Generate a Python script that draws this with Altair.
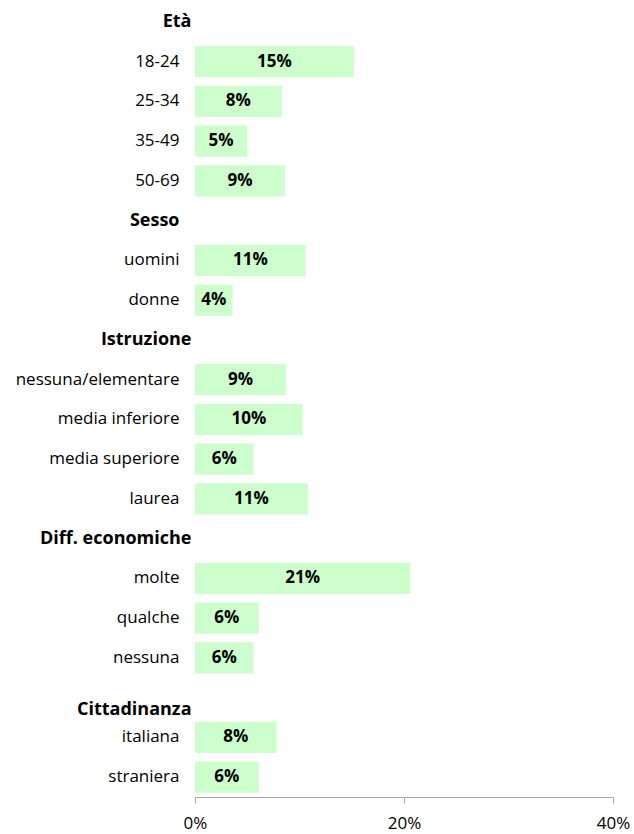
import altair as alt
import pandas as pd

rows = ["Età", "18-24", "25-34", "35-49", "50-69",
        "Sesso", "uomini", "donne",
        "Istruzione", "nessuna/elementare", "media inferiore", "media superiore", "laurea",
        "Diff. economiche", "molte", "qualche", "nessuna",
        "Cittadinanza", "italiana", "straniera"]
headers = ["Età", "Sesso", "Istruzione", "Diff. economiche", "Cittadinanza"]
values = [None, 0.152, 0.083, 0.050, 0.086,
          None, 0.106, 0.036,
          None, 0.087, 0.103, 0.056, 0.108,
          None, 0.206, 0.061, 0.056,
          None, 0.078, 0.061]

df = pd.DataFrame({"row": rows, "v": values})
bars_df = df.dropna().copy()
bars_df["mid"] = bars_df["v"] / 2

FONT = "Open Sans"

hdr_test = " || ".join([f"datum.value == '{h}'" for h in headers])

y_enc = alt.Y(
    "row:N",
    sort=rows,
    scale=alt.Scale(domain=rows, paddingInner=0.22, paddingOuter=0.11),
    axis=alt.Axis(
        title=None, domain=False, ticks=False,
        labelFont=FONT, labelColor="#000000",
        labelFontSize={"condition": {"test": hdr_test, "value": 18}, "value": 17},
        labelFontWeight={"condition": {"test": hdr_test, "value": "bold"}, "value": "normal"},
        labelPadding={"condition": [
            {"test": "datum.value == 'Sesso'", "value": 16},
            {"test": hdr_test, "value": 4}], "value": 16},
        labelOffset={"condition": {"test": "datum.value == 'Cittadinanza'", "value": 12}, "value": 0},
        labelLimit=300,
    ),
)

x_enc = alt.X(
    "v:Q",
    scale=alt.Scale(domain=[0, 0.4], nice=False),
    axis=alt.Axis(
        title=None, values=[0, 0.2, 0.4], format=".0%", grid=False,
        domainColor="#a6a6a6", tickColor="#a6a6a6", tickSize=6,
        labelFont=FONT, labelFontSize=17, labelColor="#000000", labelPadding=12,
        labelFlush=False, labelOverlap=False,
    ),
)

bars = alt.Chart(bars_df).mark_bar(color="#ccffcc").encode(
    y=y_enc,
    x=x_enc,
)

labels = alt.Chart(bars_df).mark_text(
    font=FONT, fontSize=17, fontWeight="bold", color="#000000", baseline="middle", align="center"
).encode(
    y=alt.Y("row:N", sort=rows),
    x=alt.X("mid:Q"),
    text=alt.Text("v:Q", format=".0%"),
)

# header rows (no bar) so the axis shows them
base = alt.Chart(df).mark_point(opacity=0).encode(y=alt.Y("row:N", sort=rows))

chart = alt.layer(base, bars, labels).properties(
    width=418, height=795,
    autosize=alt.AutoSizeParams(type="none"),
    padding={"left": 195, "top": 2, "right": 21, "bottom": 37},
).configure_view(stroke=None)

chart.save("out.html", embed_options={"renderer": "svg", "actions": False})
